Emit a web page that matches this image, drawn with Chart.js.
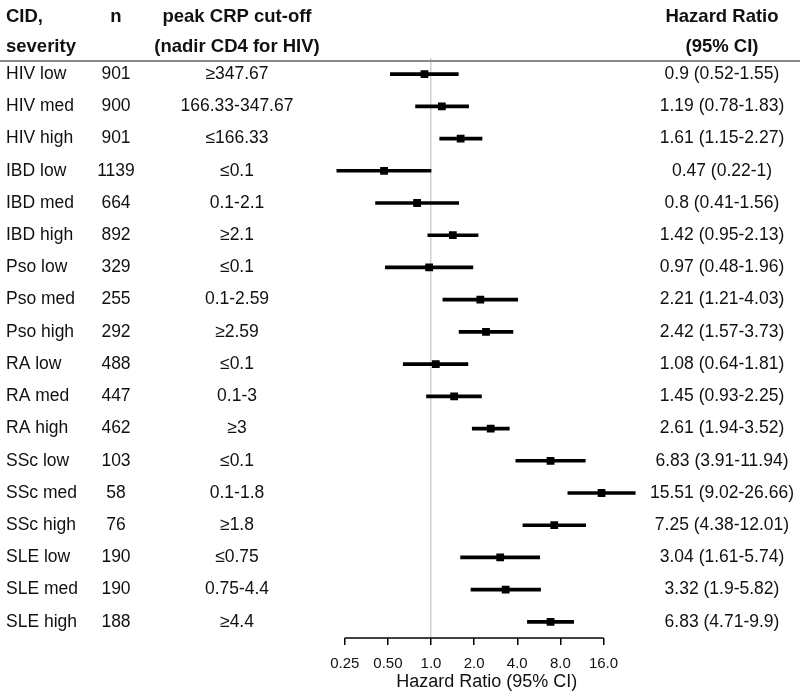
<!DOCTYPE html>
<html>
<head>
<meta charset="utf-8">
<script src="https://cdn.jsdelivr.net/npm/chart.js@4"></script>
<style>
  html, body { margin:0; padding:0; background:#fff; }
  #wrap { width:800px; height:700px; position:relative; }
</style>
</head>
<body>
<div id="wrap"><canvas id="forest"></canvas></div>
<script>
// rows of the forest plot, top to bottom
const rows = ['HIV low','HIV med','HIV high','IBD low','IBD med','IBD high','Pso low','Pso med','Pso high',
              'RA low','RA med','RA high','SSc low','SSc med','SSc high','SLE low','SLE med','SLE high'];
const nVals = [901, 900, 901, 1139, 664, 892, 329, 255, 292, 488, 447, 462, 103, 58, 76, 190, 190, 188];
const cutoffs = ['≥347.67','166.33-347.67','≤166.33','≤0.1','0.1-2.1','≥2.1','≤0.1','0.1-2.59','≥2.59',
                 '≤0.1','0.1-3','≥3','≤0.1','0.1-1.8','≥1.8','≤0.75','0.75-4.4','≥4.4'];
const hr = [0.9, 1.19, 1.61, 0.47, 0.8, 1.42, 0.97, 2.21, 2.42, 1.08, 1.45, 2.61, 6.83, 15.51, 7.25, 3.04, 3.32, 6.83];
const lo = [0.52, 0.78, 1.15, 0.22, 0.41, 0.95, 0.48, 1.21, 1.57, 0.64, 0.93, 1.94, 3.91, 9.02, 4.38, 1.61, 1.9, 4.71];
const hi = [1.55, 1.83, 2.27, 1, 1.56, 2.13, 1.96, 4.03, 3.73, 1.81, 2.25, 3.52, 11.94, 26.66, 12.01, 5.74, 5.82, 9.9];
const tickVals = [0.25, 0.5, 1, 2, 4, 8, 16];
const tickLabels = ['0.25','0.50','1.0','2.0','4.0','8.0','16.0'];

const FONT = '"Liberation Sans", Arial, sans-serif';

// table columns + axis line, drawn with the chart's own scales
const tablePlugin = {
  id: 'table',
  afterDraw(chart){
    const ctx = chart.ctx, x = chart.scales.x, y = chart.scales.y;
    ctx.save();
    ctx.fillStyle = '#111';
    ctx.textBaseline = 'middle';

    // header
    ctx.font = 'bold 18.5px ' + FONT;
    ctx.textAlign = 'left';
    ctx.fillText('CID,', 6, 17);
    ctx.fillText('severity', 6, 47);
    ctx.textAlign = 'center';
    ctx.fillText('n', 116, 17);
    ctx.fillText('peak CRP cut-off', 237, 17);
    ctx.fillText('(nadir CD4 for HIV)', 237, 47);
    ctx.fillText('Hazard Ratio', 722, 17);
    ctx.fillText('(95% CI)', 722, 47);

    ctx.strokeStyle = '#8a8a8a';
    ctx.lineWidth = 2;
    ctx.beginPath(); ctx.moveTo(0, 61); ctx.lineTo(800, 61); ctx.stroke();

    // rows
    ctx.font = '17.5px ' + FONT;
    rows.forEach((r, i) => {
      const py = y.getPixelForValue(i);
      ctx.textAlign = 'left';
      ctx.fillText(r, 6, py);
      ctx.textAlign = 'center';
      ctx.fillText(String(nVals[i]), 116, py);
      ctx.fillText(cutoffs[i], 237, py);
      ctx.fillText(hr[i] + ' (' + lo[i] + '-' + hi[i] + ')', 722, py);
    });

    // x axis line spanning first to last tick
    const yb = chart.chartArea.bottom;
    ctx.strokeStyle = '#000';
    ctx.lineWidth = 1.5;
    ctx.beginPath();
    ctx.moveTo(x.getPixelForValue(tickVals[0]), yb);
    ctx.lineTo(x.getPixelForValue(tickVals[tickVals.length-1]), yb);
    ctx.stroke();
    ctx.restore();
  }
};

new Chart(document.getElementById('forest'), {
  type: 'bar',
  data: {
    labels: rows,
    datasets: [
      {
        type: 'bar',
        label: '95% CI',
        data: lo.map((l, i) => [l, hi[i]]),
        backgroundColor: '#000',
        barThickness: 3,
        grouped: false
      },
      {
        type: 'scatter',
        label: 'HR',
        data: hr.map((v, i) => ({x: v, y: rows[i]})),
        pointStyle: 'rect',
        pointRadius: 5.5,
        pointBorderWidth: 0,
        backgroundColor: '#000'
      }
    ]
  },
  options: {
    indexAxis: 'y',
    responsive: true,
    maintainAspectRatio: false,
    animation: false,
    layout: { padding: { top: 58, left: 313, right: 139.5, bottom: 0 } },
    plugins: { legend: { display:false }, tooltip: { enabled:false } },
    scales: {
      y: { type: 'category', display: false, offset: true },
      x: {
        type: 'logarithmic',
        min: 0.15, max: 40,
        afterBuildTicks: s => { s.ticks = tickVals.map(v => ({value: v})); },
        afterFit: s => { s.height = 62; },
        border: { display: false },
        grid: {
          drawOnChartArea: true,
          color: c => (c.tick && c.tick.value === 1) ? '#cfcfcf' : 'rgba(0,0,0,0)',
          lineWidth: 1.5,
          drawTicks: true,
          tickLength: 7,
          tickColor: '#000',
          tickWidth: 1.5
        },
        ticks: {
          autoSkip: false, maxRotation: 0, padding: 10,
          color: '#111',
          font: { family: FONT, size: 15 },
          callback: (v, i) => tickLabels[i]
        },
        title: {
          display: true,
          text: 'Hazard Ratio (95% CI)',
          color: '#111',
          font: { family: FONT, size: 18 },
          padding: { top: 0, bottom: 7 }
        }
      }
    }
  },
  plugins: [tablePlugin]
});
</script>
</body>
</html>
